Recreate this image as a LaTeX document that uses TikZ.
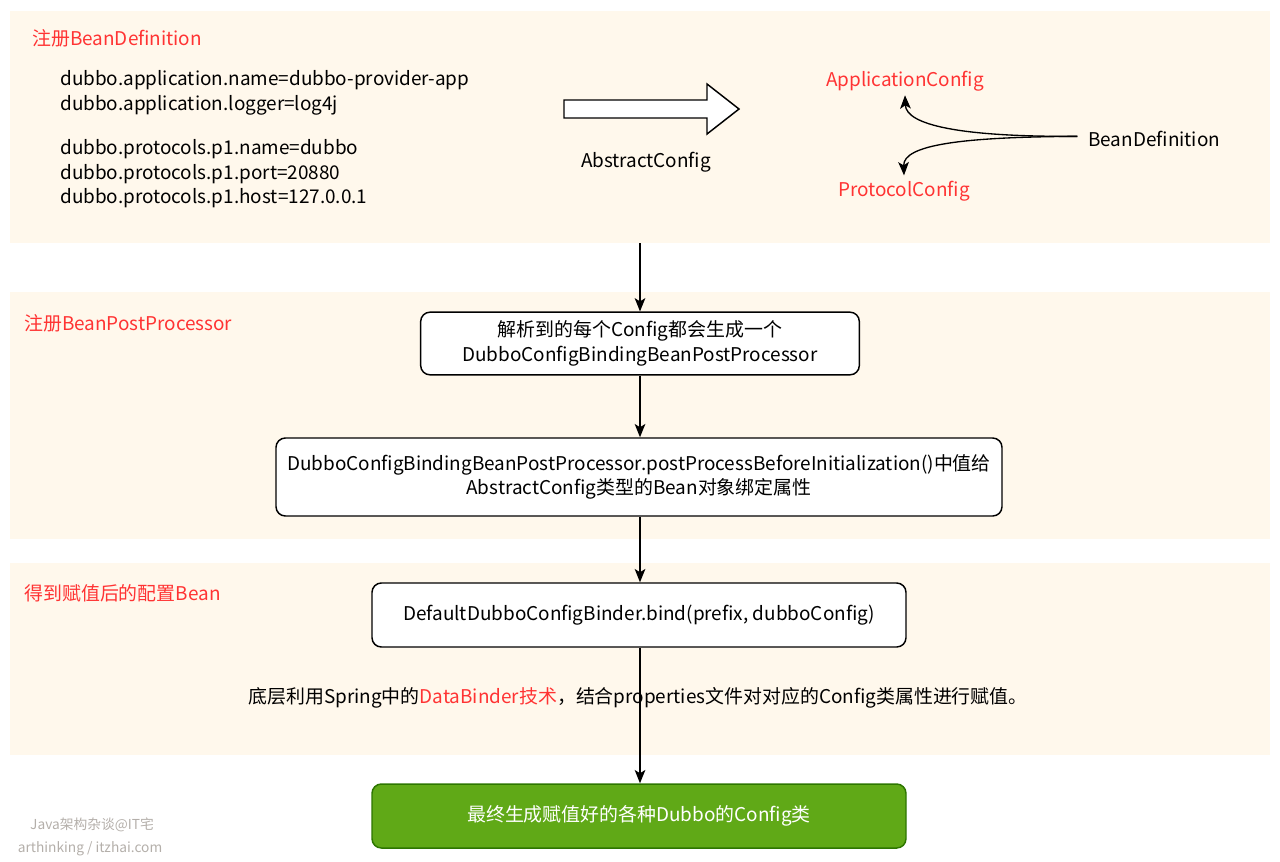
\documentclass[tikz,border=0pt]{standalone}
\usepackage{fontspec}
\setmainfont{Noto Sans CJK SC}
\usetikzlibrary{arrows.meta}
\definecolor{panelbg}{HTML}{FFF8EC}
\definecolor{redtxt}{HTML}{FF3333}
\definecolor{okfill}{HTML}{60A917}
\definecolor{okdraw}{HTML}{2D7600}
\definecolor{marktxt}{HTML}{B4AFAA}
\tikzstyle{box} = [rectangle, rounded corners = 7, draw = black,
  line width = 1.1pt, fill = white, align = center, inner sep = 0]
\tikzstyle{okbox} = [box, fill = okfill, draw = okdraw, text = white]
\tikzstyle{title} = [anchor = west, text = redtxt, inner sep = 0]
\tikzstyle{plain} = [inner sep = 0, align = left]
\tikzstyle{link} = [draw, line width = 1pt,
  -{Stealth[length = 10pt, width = 8pt, inset = 2.5pt]}]

\begin{document}
\begin{tikzpicture}[x = 0.75pt, y = -0.75pt, font = \fontsize{14.2}{18.3}\selectfont]
      \useasboundingbox (0, 0) rectangle (1280, 861);
      % panels
      \fill [panelbg] (10, 11) rectangle (1270, 243);
      \fill [panelbg] (10, 292) rectangle (1270, 539);
      \fill [panelbg] (10, 563) rectangle (1270, 755);
      % 0: BeanDefinition
      \node [title] (title-0) at (32, 38) {注册BeanDefinition};
      \node [plain, anchor = west] (props-0-a) at (60, 93)
        {dubbo.application.name=dubbo-provider-app\\dubbo.application.logger=log4j};
      \node [plain, anchor = west] (props-0-b) at (60, 174)
        {dubbo.protocols.p1.name=dubbo\\dubbo.protocols.p1.port=20880\\dubbo.protocols.p1.host=127.0.0.1};
      \draw [line width = 1.1pt, fill = white] (564, 100) -- (707, 100) -- (707, 84)
        -- (739, 109) -- (707, 134) -- (707, 118) -- (564, 118) -- cycle;
      \node [plain] (abstract) at (646, 162) {AbstractConfig};
      \node [plain, text = redtxt] (app-cfg) at (905, 81) {ApplicationConfig};
      \node [plain, text = redtxt] (proto-cfg) at (904, 191) {ProtocolConfig};
      \node [plain, anchor = west] (bean-def) at (1088, 139) {BeanDefinition};
      \draw [link] ([xshift = -8, yshift = 2]bean-def.west) .. controls (960, 137) and (906, 125)
        .. ([yshift = -3]app-cfg.south);
      \draw [link] ([xshift = -8, yshift = 2]bean-def.west) .. controls (960, 137) and (903, 145)
        .. ([yshift = 4]proto-cfg.north);
      % 1: BeanPostProcessor
      \node [title] (title-1) at (24, 323) {注册BeanPostProcessor};
      \node [box, minimum width = 329pt, minimum height = 47pt] (box-1-a) at (640, 343.5)
        {解析到的每个Config都会生成一个\\DubboConfigBindingBeanPostProcessor};
      \node [box, minimum width = 544.5pt, minimum height = 58.5pt] (box-1-b) at (639, 477)
        {DubboConfigBindingBeanPostProcessor.postProcessBeforeInitialization()中值给\\AbstractConfig类型的Bean对象绑定属性};
      % 2: bind
      \node [title] (title-2) at (24, 593) {得到赋值后的配置Bean};
      \node [box, minimum width = 400.5pt, minimum height = 48pt] (box-2-a) at (639, 615)
        {DefaultDubboConfigBinder.bind(prefix, dubboConfig)};
      \node [plain] (note-2) at (638, 698)
        {底层利用Spring中的\textcolor{redtxt}{DataBinder技术}，结合properties文件对对应的Config类属性进行赋值。};
      % 3: result
      \node [okbox, minimum width = 400.5pt, minimum height = 48pt] (box-3-a) at (639, 816)
        {最终生成赋值好的各种Dubbo的Config类};

      \draw [link] (640, 243) -- (box-1-a);
      \draw [link] (box-1-a) -- (box-1-b.north -| box-1-a);
      \draw [link] (box-1-b.south -| box-1-a) -- (box-2-a.north -| box-1-a);
      \draw [link] (box-2-a.south -| box-1-a) -- (box-3-a.north -| box-1-a);

      % watermark
      \node [plain, text = marktxt, font = \fontsize{10.3}{12}\selectfont] (mark-a) at (92, 825)
        {Java架构杂谈@IT宅};
      \node [plain, text = marktxt, font = \fontsize{10.3}{12}\selectfont] (mark-b) at (90, 849)
        {arthinking / itzhai.com};
    \end{tikzpicture}
\end{document}
